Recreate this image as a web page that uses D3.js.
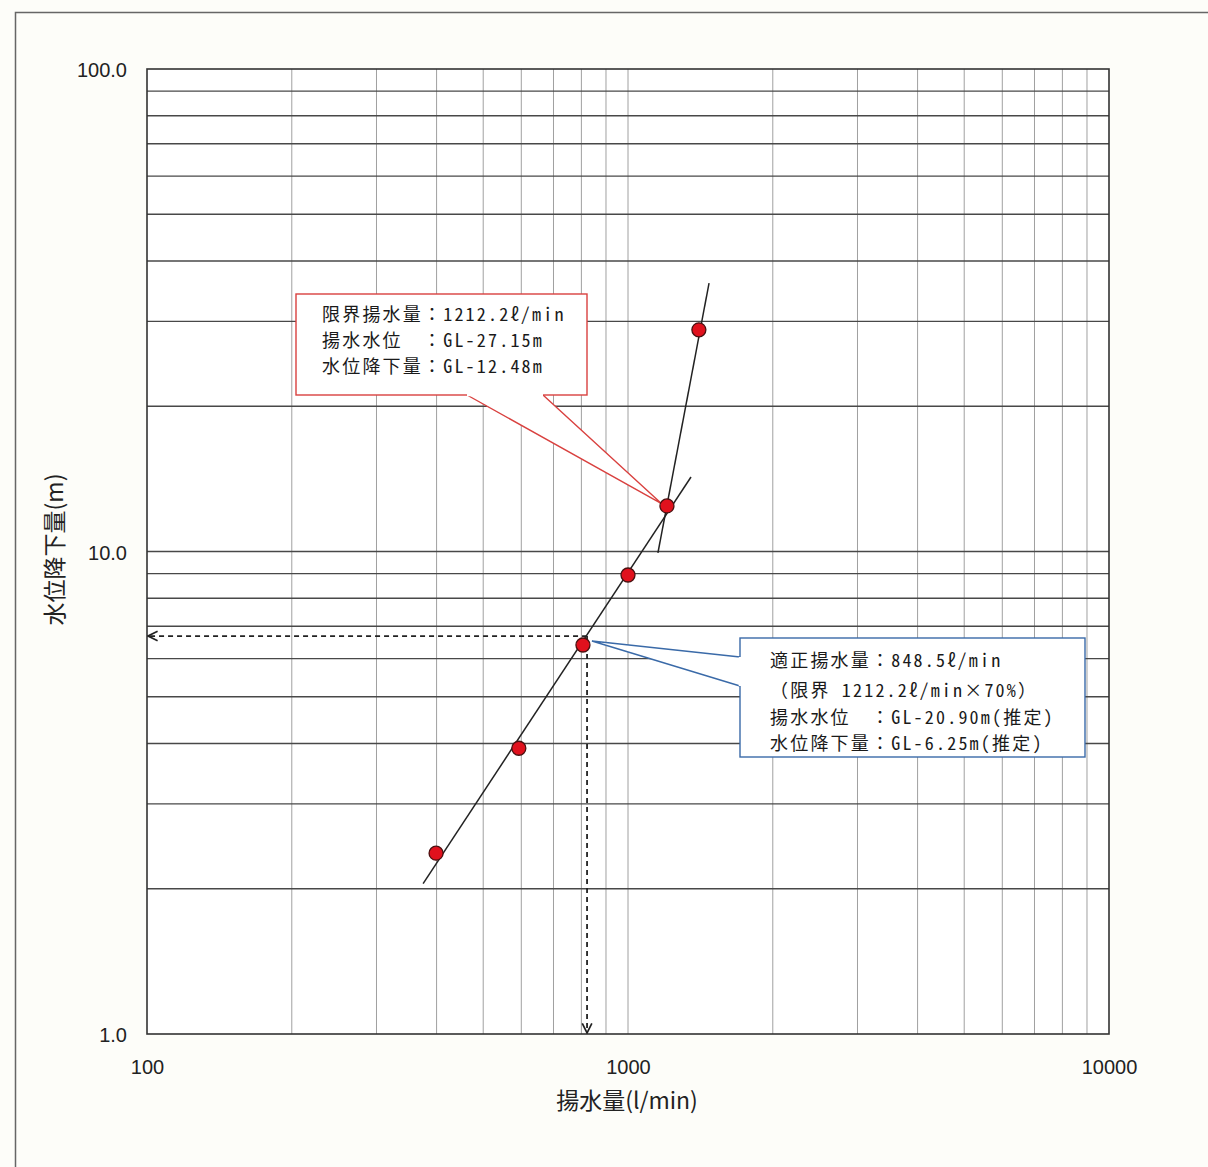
<!DOCTYPE html>
<html>
<head>
<meta charset="utf-8">
<script src="https://cdn.jsdelivr.net/npm/d3@7"></script>
<style>
  body { margin: 0; background: #fdfdf9; }
  svg { display: block; }
</style>
</head>
<body>
<div id="chart"></div>
<script>
// measured points (Q vs s)
const flowRates = [399, 593, 806, 1000, 1205, 1404];
const drawdowns = [2.37, 3.91, 6.40, 8.94, 12.43, 28.8];

// hand-drawn trend lines (endpoints)
const trendLowQ = [375, 1352];
const trendLowS = [2.05, 14.27];
const trendHighQ = [1154, 1474];
const trendHighS = [9.93, 36.0];

// adequate yield guide (dashed)
const guideQ = 822;
const guideS = 6.68;

const xTicks = [100, 1000, 10000];
const yTicks = [1, 10, 100];
const xTitle = "揚水量(l/min)";
const yTitle = "水位降下量(m)";

const limitLabel = ["限界揚水量：1212.2ℓ/min", "揚水水位　：GL-27.15m", "水位降下量：GL-12.48m"];
const adequateLabel = ["適正揚水量：848.5ℓ/min", "（限界 1212.2ℓ/min×70%）", "揚水水位　：GL-20.90m(推定)", "水位降下量：GL-6.25m(推定)"];

let W = 1208, H = 1167;
let margin = {left: 147, right: W - 1109, top: 69, bottom: H - 1034};

let x = d3.scaleLog()
  .domain([100, 10000])
  .range([margin.left, W - margin.right]);

let y = d3.scaleLog()
  .domain([1, 100])
  .range([H - margin.bottom, margin.top]);

const svg = d3.select("#chart")
  .append("svg")
  .attr("width", W)
  .attr("height", H)
  .style("font-family", "'Liberation Sans', Arial, sans-serif");

svg.append("rect")
  .attr("width", W).attr("height", H)
  .attr("fill", "#fdfdf9");

// outer frame
svg.append("rect")
  .attr("x", 15.5).attr("y", 12.5)
  .attr("width", 1300).attr("height", 1300)
  .attr("fill", "none")
  .attr("stroke", "#666")
  .attr("stroke-width", 1.5);

svg.append("rect")
  .attr("x", margin.left).attr("y", margin.top)
  .attr("width", x.range()[1] - x.range()[0])
  .attr("height", y.range()[0] - y.range()[1])
  .attr("fill", "#fff");

// minor grid values
let gridVals = [];
for (let d = 1; d < 100; d *= 10) {
  for (let k = 1; k < 10; k++) gridVals.push(d * k);
}
let xGridVals = gridVals.map(v => v * 100);

svg.append("g")
  .selectAll("line")
  .data(xGridVals.slice(1))
  .join("line")
  .attr("x1", d => x(d)).attr("x2", d => x(d))
  .attr("y1", y.range()[1]).attr("y2", y.range()[0])
  .attr("stroke", "#a0a0a0")
  .attr("stroke-width", 1);

svg.append("g")
  .selectAll("line")
  .data(gridVals.slice(1))
  .join("line")
  .attr("x1", x.range()[0]).attr("x2", x.range()[1])
  .attr("y1", d => y(d)).attr("y2", d => y(d))
  .attr("stroke", "#484848")
  .attr("stroke-width", 1.3);

svg.append("rect")
  .attr("x", margin.left).attr("y", margin.top)
  .attr("width", x.range()[1] - x.range()[0])
  .attr("height", y.range()[0] - y.range()[1])
  .attr("fill", "none")
  .attr("stroke", "#333")
  .attr("stroke-width", 1.6);

// axes labels
const gx = svg.append("g")
  .attr("transform", `translate(0,${y.range()[0] + 23})`)
  .call(d3.axisBottom(x).tickValues(xTicks).tickFormat(d3.format("d")).tickSize(0))
  .call(g => g.select(".domain").remove());
gx.selectAll("text")
  .attr("font-size", 20)
  .attr("fill", "#222")
  .attr("font-family", "'Liberation Sans', Arial, sans-serif");

const gy = svg.append("g")
  .attr("transform", `translate(${x.range()[0] - 17},0)`)
  .call(d3.axisLeft(y).tickValues(yTicks).tickFormat(d3.format(".1f")).tickSize(0))
  .call(g => g.select(".domain").remove());
gy.selectAll("text")
  .attr("font-size", 20)
  .attr("fill", "#222")
  .attr("dy", "0.38em")
  .attr("font-family", "'Liberation Sans', Arial, sans-serif");

svg.append("text")
  .attr("x", d3.mean(x.range()) - 1)
  .attr("y", 1109)
  .attr("text-anchor", "middle")
  .attr("font-size", 23)
  .attr("fill", "#222")
  .attr("font-family", "'Noto Sans CJK JP', sans-serif")
  .text(xTitle);

svg.append("text")
  .attr("transform", `translate(63,${d3.mean(y.range()) - 2}) rotate(-90)`)
  .attr("text-anchor", "middle")
  .attr("font-size", 23)
  .attr("fill", "#222")
  .attr("font-family", "'Noto Sans CJK JP', sans-serif")
  .text(yTitle);

// dashed guide lines with arrows
svg.append("defs").append("marker")
  .attr("id", "arr")
  .attr("viewBox", "0 0 10 10")
  .attr("refX", 9).attr("refY", 5)
  .attr("markerWidth", 12).attr("markerHeight", 12)
  .attr("markerUnits", "userSpaceOnUse")
  .attr("orient", "auto")
  .append("path")
  .attr("d", "M1,1 L9,5 L1,9")
  .attr("fill", "none")
  .attr("stroke", "#222")
  .attr("stroke-width", 1.4);

svg.append("line")
  .attr("x1", x(guideQ)).attr("x2", x.range()[0] + 1)
  .attr("y1", y(guideS)).attr("y2", y(guideS))
  .attr("stroke", "#222").attr("stroke-width", 1.8)
  .attr("stroke-dasharray", "5,4")
  .attr("marker-end", "url(#arr)");

svg.append("line")
  .attr("x1", x(guideQ)).attr("x2", x(guideQ))
  .attr("y1", y(guideS)).attr("y2", y.range()[0] - 1)
  .attr("stroke", "#222").attr("stroke-width", 1.8)
  .attr("stroke-dasharray", "5,4")
  .attr("marker-end", "url(#arr)");

// trend lines
let line = d3.line().x(d => x(d[0])).y(d => y(d[1]));
svg.append("path")
  .attr("d", line(d3.zip(trendLowQ, trendLowS)))
  .attr("stroke", "#222").attr("stroke-width", 1.5).attr("fill", "none");
svg.append("path")
  .attr("d", line(d3.zip(trendHighQ, trendHighS)))
  .attr("stroke", "#222").attr("stroke-width", 1.5).attr("fill", "none");

// callouts
function callout(box, tip, base, color, lines, lineHs, textX, firstY) {
  const g = svg.append("g");
  g.append("path")
    .attr("d", `M${base[0][0]},${base[0][1]} L${tip[0]},${tip[1]} L${base[1][0]},${base[1][1]}`)
    .attr("fill", "#fff")
    .attr("stroke", color)
    .attr("stroke-width", 1.4);
  g.append("rect")
    .attr("x", box.x).attr("y", box.y)
    .attr("width", box.w).attr("height", box.h)
    .attr("fill", "#fff")
    .attr("stroke", color)
    .attr("stroke-width", 1.4);
  // hide the rect edge under the wedge
  g.append("path")
    .attr("d", `M${base[0][0]},${base[0][1]} L${base[1][0]},${base[1][1]}`)
    .attr("stroke", "#fff").attr("stroke-width", 2.5);
  g.selectAll("text.cl")
    .data(lines)
    .join("text")
    .attr("class", "cl")
    .attr("x", textX)
    .attr("y", (d, i) => firstY + d3.sum(lineHs.slice(0, i)))
    .attr("font-size", 18)
    .attr("letter-spacing", 2.2)
    .attr("fill", "#1a1a1a")
    .attr("font-family", "'Noto Sans Mono CJK JP', 'Noto Sans CJK JP', sans-serif")
    .text(d => d);
}

let pLimit = [x(flowRates[4]), y(drawdowns[4])];
callout({x: 296, y: 294, w: 291, h: 101}, [pLimit[0] - 5, pLimit[1] - 2],
  [[467, 395], [543, 395]], "#d9413f", limitLabel, [26, 26], 322, 321);

let pAdeq = [x(flowRates[2]), y(drawdowns[2])];
callout({x: 740, y: 638, w: 345, h: 119}, [pAdeq[0] + 9, pAdeq[1] - 4],
  [[740, 657], [740, 686]], "#3a6aa8", adequateLabel, [30, 27, 26], 770, 667);

// points
svg.append("g")
  .selectAll("circle")
  .data(d3.zip(flowRates, drawdowns))
  .join("circle")
  .attr("cx", d => x(d[0]))
  .attr("cy", d => y(d[1]))
  .attr("r", 7)
  .attr("fill", "#e0111d")
  .attr("stroke", "#4a1010")
  .attr("stroke-width", 1.3);
</script>
</body>
</html>
